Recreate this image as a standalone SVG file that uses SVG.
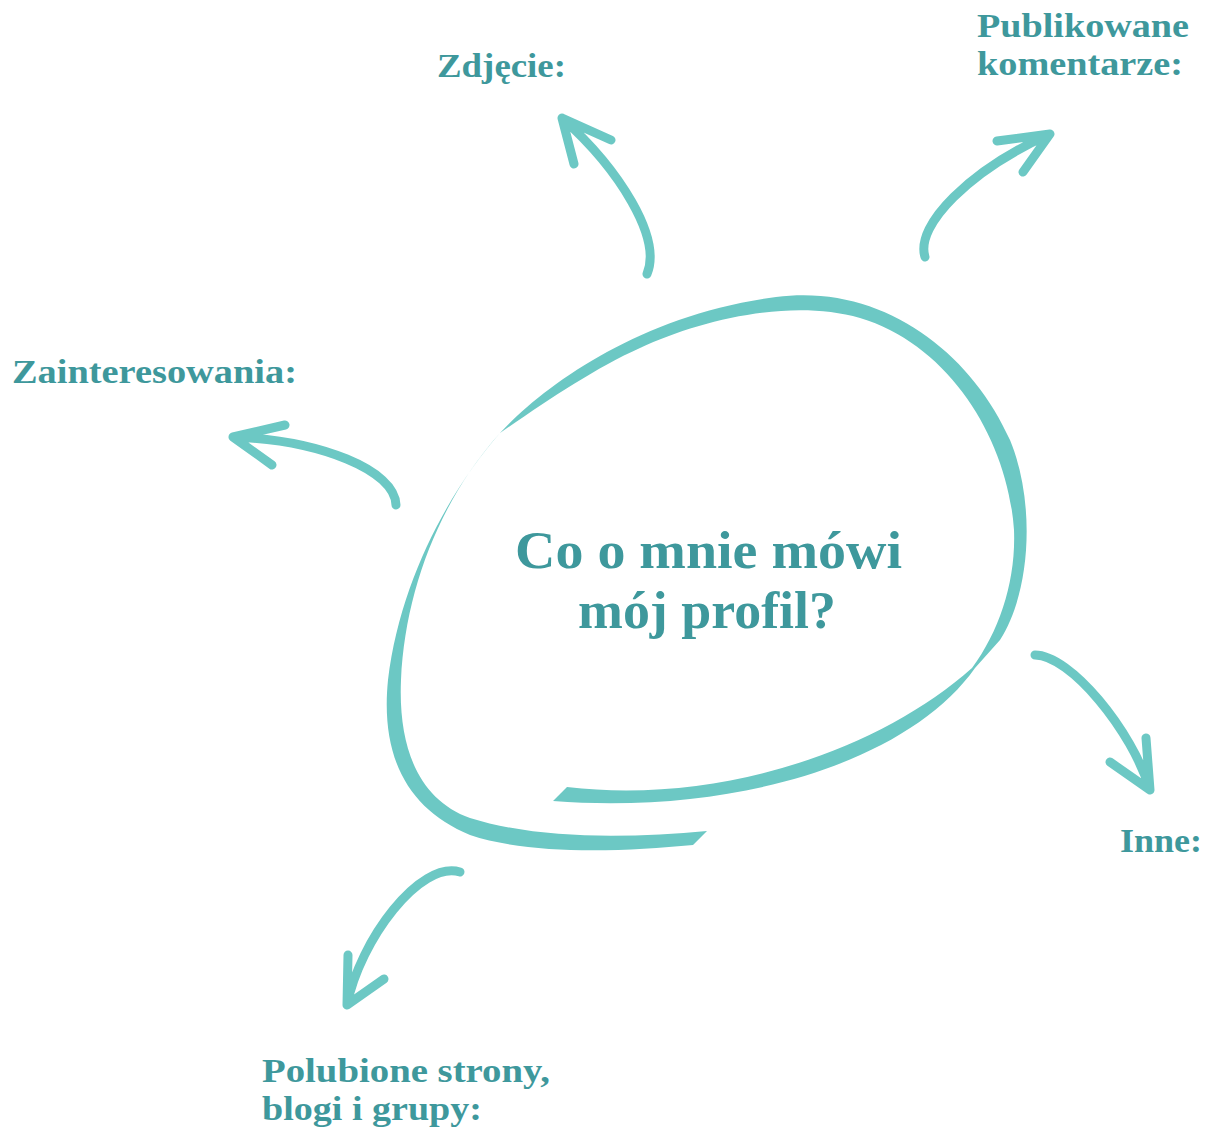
<svg xmlns="http://www.w3.org/2000/svg" width="1209" height="1133" viewBox="0 0 1209 1133">
<style>
.lbl{font-family:"Liberation Serif","Times New Roman",serif;font-weight:bold;fill:#3E989C;font-size:33px}
.title{font-family:"Liberation Serif","Times New Roman",serif;font-weight:bold;fill:#3E989C;font-size:52px}
.arr{fill:none;stroke:#6CC8C4;stroke-width:9;stroke-linecap:round;stroke-linejoin:round}
.ring{fill:#6CC8C4;stroke:none}
</style>
<rect width="1209" height="1133" fill="#ffffff"/>
<g id="center">
<path class="ring" d="M 500 433 C 545 385, 640 315, 776 297 C 880 283, 970 350, 1010 440 C 1035 500, 1032 590, 1000 640 L 975 668 C 910 760, 740 815, 553 801 L 567 787 C 720 805, 880 750, 972 668 C 1000 630, 1016 580, 1014 530 C 1008 440, 950 345, 860 318 C 790 298, 700 320, 640 348 C 595 368, 545 402, 500 433 Z"/>
<path class="ring" d="M 500 433 C 450 490, 400 580, 388 680 C 380 760, 410 810, 470 835 C 530 855, 620 852, 693 845 L 707 831 C 630 838, 540 840, 470 818 C 420 800, 398 750, 401 680 C 405 590, 440 500, 500 433 Z"/>
<text class="title" x="515" y="568" textLength="387" lengthAdjust="spacingAndGlyphs">Co o mnie mówi</text>
<text class="title" x="578" y="628" textLength="258" lengthAdjust="spacingAndGlyphs">mój profil?</text>
</g>
<g id="zdjecie"><text class="lbl" x="437" y="77" textLength="129" lengthAdjust="spacingAndGlyphs">Zdjęcie:</text></g>
<g id="komentarze"><text class="lbl" x="977" y="37" textLength="212" lengthAdjust="spacingAndGlyphs">Publikowane</text><text class="lbl" x="977" y="75" textLength="206" lengthAdjust="spacingAndGlyphs">komentarze:</text></g>
<g id="zainteresowania"><text class="lbl" x="12" y="383" textLength="285" lengthAdjust="spacingAndGlyphs">Zainteresowania:</text></g>
<g id="inne"><text class="lbl" x="1120" y="852" textLength="82" lengthAdjust="spacingAndGlyphs">Inne:</text></g>
<g id="polubione"><text class="lbl" x="262" y="1082" textLength="288" lengthAdjust="spacingAndGlyphs">Polubione strony,</text><text class="lbl" x="262" y="1120" textLength="220" lengthAdjust="spacingAndGlyphs">blogi i grupy:</text></g>
<g id="connectors">
<path class="arr" d="M 647 274 C 662 238, 620 170, 562 118 M 611 140 L 562 118 L 574 164"/>
<path class="arr" d="M 925 257 C 915 225, 970 170, 1050 134 M 997 141 L 1050 134 L 1023 172"/>
<path class="arr" d="M 396 505 C 395 470, 320 440, 233 437 M 285 425 L 233 437 L 272 465"/>
<path class="arr" d="M 1035 655 C 1070 655, 1132 730, 1150 790 M 1146 738 L 1150 790 L 1110 762"/>
<path class="arr" d="M 460 872 C 420 860, 360 940, 347 1005 M 348 955 L 347 1005 L 384 979"/>
</g>
</svg>
